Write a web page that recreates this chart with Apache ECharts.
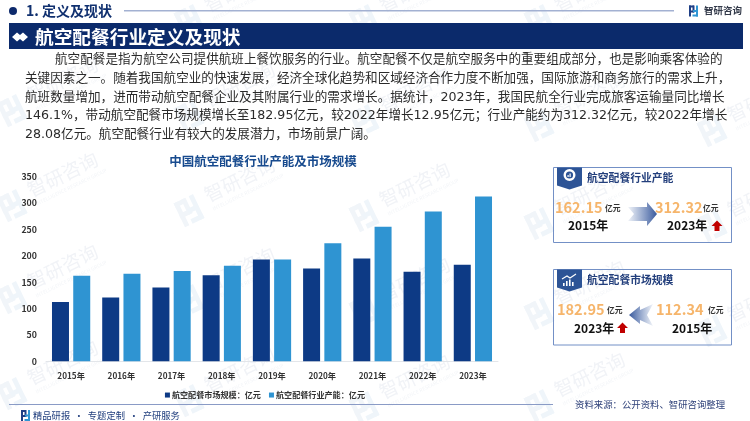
<!DOCTYPE html>
<html><head><meta charset="utf-8">
<style>html,body{margin:0;padding:0;background:#fff}#c{width:750px;height:421px}</style>
<script src="https://cdn.jsdelivr.net/npm/echarts@6/dist/echarts.min.js"></script>
</head><body><div id="c"></div>
<script>
const categories=['2015年','2016年','2017年','2018年','2019年','2020年','2021年','2022年','2023年'];
const marketSize=[112.34,121,140,163,193,176,195,170,182.95];
const capacity=[162.15,166,171,181,193,224,255,284.24,312.32];
const seriesNames=['航空配餐市场规模：亿元','航空配餐行业产能：亿元'];
const yTicks={min:0,max:350,interval:50};
const chartTitle='中国航空配餐行业产能及市场规模';
const bodyLines=[
'航空配餐是指为航空公司提供航班上餐饮服务的行业。航空配餐不仅是航空服务中的重要组成部分，也是影响乘客体验的',
'关键因素之一。随着我国航空业的快速发展，经济全球化趋势和区域经济合作力度不断加强，国际旅游和商务旅行的需求上升，',
'航班数量增加，进而带动航空配餐企业及其附属行业的需求增长。据统计，2023年，我国民航全行业完成旅客运输量同比增长',
'146.1%，带动航空配餐市场规模增长至182.95亿元，较2022年增长12.95亿元；行业产能约为312.32亿元，较2022年增长',
'28.08亿元。航空配餐行业有较大的发展潜力，市场前景广阔。'];

const FF='"Noto Sans CJK SC","Noto Sans",sans-serif';
const FB='"DejaVu Sans","Noto Sans CJK SC",sans-serif';
const g=[];
function T(text,x,y,size,fill,bold,align,z,fam){g.push({type:'text',z:z||10,silent:true,style:{text,x,y,fill,font:(bold?'bold ':'')+size+'px '+(fam||FF),textAlign:align||'left',textVerticalAlign:'middle'}});}
function R(x,y,w,h,fill,z){g.push({type:'rect',z:z||5,silent:true,shape:{x,y,width:w,height:h},style:{fill}});}
function P(points,fill,z){g.push({type:'polygon',z:z||6,silent:true,shape:{points},style:{fill}});}
function logoChildren(c1,c2){return [
 {type:'rect',shape:{x:0,y:0,width:5,height:2},style:{fill:c1}},
 {type:'rect',shape:{x:0,y:0,width:2,height:11},style:{fill:c1}},
 {type:'rect',shape:{x:0,y:5,width:5,height:2},style:{fill:c1}},
 {type:'rect',shape:{x:3.5,y:0,width:2,height:7},style:{fill:c1}},
 {type:'rect',shape:{x:7,y:0,width:2,height:11},style:{fill:c2}},
 {type:'rect',shape:{x:3.5,y:9,width:5.5,height:2},style:{fill:c2}},
 {type:'rect',shape:{x:4,y:4.5,width:4,height:2},style:{fill:c2}}];}

// watermarks
const wmCols=[[13,[110,205,297,393]],[190,[20,115,210,300,400]],[365,[20,120,215,310,407]],[540,[20,125,223,313,405]],[713,[130,225,330]]];
wmCols.forEach(([x,ys])=>ys.forEach(y=>{
 g.push({type:'group',x,y,rotation:0.45,z:1,silent:true,children:[
  {type:'group',x:-12,y:-13,scaleX:2.4,scaleY:2.4,children:logoChildren('#f1f5f9','#eff5fa')},
  {type:'text',style:{text:'智研咨询',x:20,y:-6,fill:'#f1f3f7',font:'19px '+FF,textVerticalAlign:'middle'}},
  {type:'text',style:{text:'INTELLIGENCE RESEARCH GROUP',x:21,y:9,fill:'#f3f5f8',font:'5px '+FF,textVerticalAlign:'middle'}}
 ]});
}));

// header
g.push({type:'circle',z:6,silent:true,shape:{cx:13,cy:11,r:4},style:{fill:'#0d2a6c'}});
T('1. 定义及现状',26,11,14,'#10306f',true);
R(124,10,550,1.5,'#a3b1d2');
g.push({type:'group',x:689,y:5.5,z:6,silent:true,children:logoChildren('#1f3f86','#2f95d3')});
T('智研咨询',704,10.5,9.5,'#333a4a',true);
R(9,23,734,26,'#0b2a6b');
P([[12,37],[17,32.5],[20,35],[23,32.5],[28,37],[23,41.5],[20,39],[17,41.5]],'#fff',7);
T('航空配餐行业定义及现状',35,36.5,18.7,'#fff',true);

// body
const bodyX=[55,25,25,25,25],bodyY=[60,79,98,116,135];
bodyLines.forEach((s,i)=>T(s,bodyX[i],bodyY[i],12.6,'#2a2a2a',false,'left',10,FB));

// footer
R(9,404,544,1,'#8a9bc6');
g.push({type:'group',x:21,y:410,z:6,silent:true,children:logoChildren('#1f3f86','#2f95d3')});
T('精品研报  ·  专题定制  ·  产研服务',33,415,9.3,'#23407f');
T('资料来源：公开资料、智研咨询整理',575,404,9.4,'#2c3f78');

// cards
function card(y0,y1,title,bh){
 g.push({type:'rect',z:5,silent:true,shape:{x:553.5,y:y0,width:178,height:y1-y0},style:{fill:'rgba(255,255,255,0)',stroke:'#7390c6',lineWidth:1}});
 P([[557,y0],[582,y0],[582,y0+bh-4],[569.5,y0+bh],[557,y0+bh-4]],'#2d5496');
 T(title,587,y0+10,10.8,'#233f7c',true);
}
card(167.5,242.5,'航空配餐行业产能',22);
g.push({type:'ring',z:7,silent:true,shape:{cx:569.5,cy:175,r:6,r0:3.6},style:{fill:'#fff'}});
R(567.5,175,1.2,2,'#fff',8);R(569.5,173.5,1.2,3.5,'#fff',8);
function vf(s,x,y){T(s,x,y,14.5,'#f6b56b',true);}
const card1Vals=['162.15','312.32'],card2Vals=['182.95','112.34'],unit='亿元';
vf(card1Vals[0],555,207);T(unit,605,208,7.8,'#333',true);
T('2015年',568,225,12,'#111',true);
vf(card1Vals[1],655,207);T(unit,703,208,7.8,'#333',true);
T('2023年',667,225,12,'#111',true);
function redUp(cx,cy){P([[cx,cy-5.5],[cx+5.5,cy],[cx+2.5,cy],[cx+2.5,cy+5],[cx-2.5,cy+5],[cx-2.5,cy],[cx-5.5,cy]],'#c00000',8);}
redUp(717,226);
g.push({type:'polygon',z:6,silent:true,shape:{points:[[628,207],[647,207],[647,202],[657,214],[647,226],[647,221],[628,221],[634,214]]},
 style:{fill:{type:'linear',x:0,y:0,x2:1,y2:0,colorStops:[{offset:0,color:'rgba(70,105,170,0.08)'},{offset:1,color:'#39599c'}]}}});

card(269.5,345,'航空配餐市场规模',22);
[[562,283,1.6,3],[565,281,1.6,5],[568,279.5,1.6,6.5],[571,282,1.6,4]].forEach(a=>R(a[0]+1,a[1],a[2],a[3],'#fff',8));
g.push({type:'polyline',z:8,silent:true,shape:{points:[[562,279],[567,276],[570,278],[576,274]]},style:{stroke:'#fff',lineWidth:1.2,fill:'none'}});
vf(card2Vals[0],557,309);T(unit,607,310,7.8,'#333',true);
T('2023年',574,328,12,'#111',true);
vf(card2Vals[1],656,309);T(unit,708,310,7.8,'#333',true);
T('2015年',672,328,12,'#111',true);
redUp(622.5,328);
g.push({type:'polygon',z:6,silent:true,shape:{points:[[653,304],[640,310],[640,306],[629,315],[640,324],[640,320],[653,326],[647,315]]},
 style:{fill:{type:'linear',x:1,y:0,x2:0,y2:0,colorStops:[{offset:0,color:'rgba(70,105,170,0.08)'},{offset:1,color:'#39599c'}]}}});

const chart=echarts.init(document.getElementById('c'),null,{renderer:'canvas'});
chart.setOption({
 animation:false,
 backgroundColor:'#fff',
 title:{text:chartTitle,left:258,top:150,textAlign:'center',textStyle:{fontFamily:FF,fontSize:12.5,fontWeight:'bold',color:'#174a8e'}},
 legend:{data:seriesNames,right:380,top:386,itemWidth:5,itemHeight:5,itemGap:8,icon:'rect',
  textStyle:{fontFamily:FF,fontSize:8.1,fontWeight:'bold',color:'#333',padding:[0,0,0,-3]}},
 grid:{left:46,right:252,top:176.7,bottom:59.7,containLabel:false},
 xAxis:{type:'category',data:categories,axisTick:{show:false},axisLine:{lineStyle:{color:'#e3e6ea',width:1}},
  axisLabel:{fontFamily:FF,fontSize:8.2,fontWeight:'bold',color:'#333',margin:10,interval:0}},
 yAxis:{type:'value',min:yTicks.min,max:yTicks.max,interval:yTicks.interval,splitLine:{show:false},axisLine:{show:false},axisTick:{show:false},
  axisLabel:{fontFamily:FF,fontSize:8.8,fontWeight:'bold',color:'#333',margin:9}},
 series:[
  {type:'bar',name:seriesNames[0],data:marketSize,barWidth:17,barGap:'25%',z:3,itemStyle:{color:'#0d3a85'}},
  {type:'bar',name:seriesNames[1],data:capacity,barWidth:17,barGap:'25%',z:3,itemStyle:{color:'#2f94d2'}}
 ],
 graphic:{elements:g}
});
</script></body></html>
